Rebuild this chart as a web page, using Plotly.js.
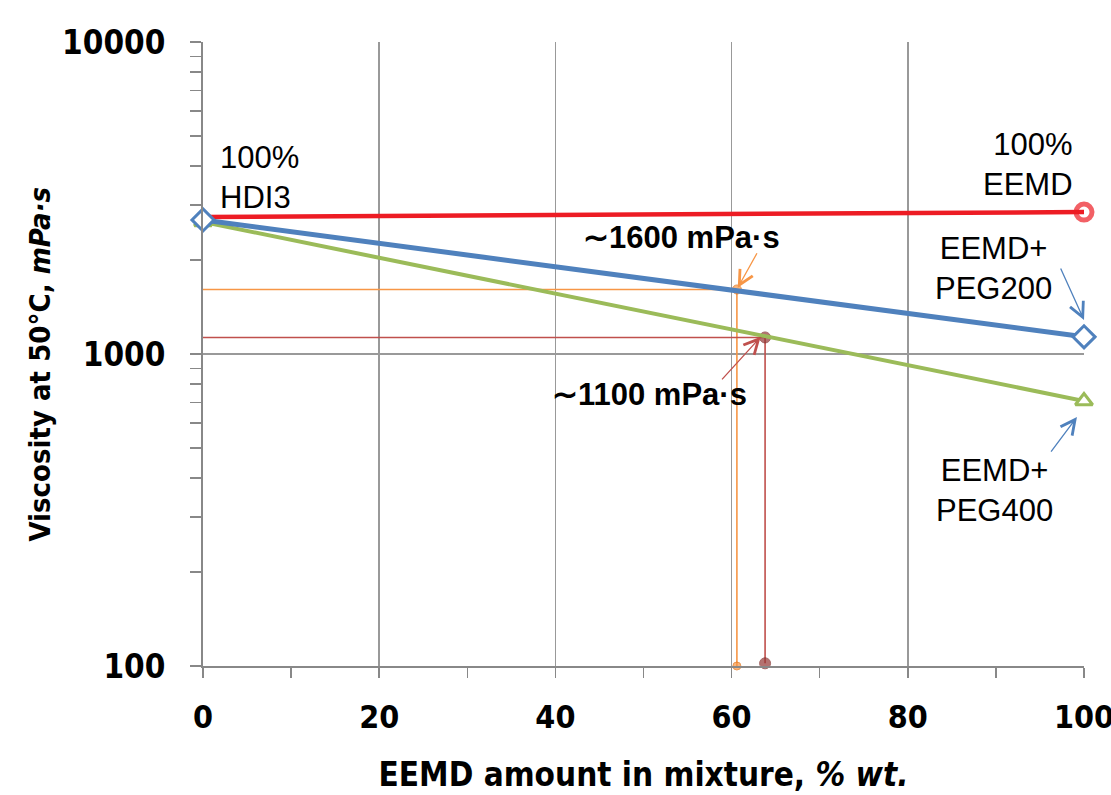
<!DOCTYPE html>
<html><head><meta charset="utf-8">
<script src="https://cdn.plot.ly/plotly-3.0.1.min.js"></script>
<style>html,body{margin:0;padding:0;background:#fff}#chart{width:1111px;height:795px}</style>
</head><body><div id="chart"></div>
<script>
// EEMD amount (% wt.) and viscosity at 50°C (mPa·s)
const xEnds = [0, 100];
const eemdHdi = [2750, 2850];      // 100% HDI3 -> 100% EEMD
const peg200 = [2690, 1135];       // EEMD+PEG200
const peg400 = [2650, 707];        // EEMD+PEG400
// read-off guide lines
const guide1600x = [0, 60.6, 60.6];
const guide1600y = [1610, 1610, 100];
const guide1100x = [0, 63.8, 63.8];
const guide1100y = [1130, 1130, 102];

const xTicks = [0, 20, 40, 60, 80, 100];
const yTicks = [100, 1000, 10000];
const yTickText = ['100', '1000', '10000'];

const BOLD = 'DejaVu Sans Condensed, DejaVu Sans, sans-serif';
const ARIAL = 'Liberation Sans, Arial, sans-serif';

const traces = [
  {x: guide1600x, y: guide1600y, mode: 'lines+markers', line: {color: '#F79646', width: 1.6}, cliponaxis: false,
   marker: {size: [0, 9, 8], color: '#F79646', line: {color: '#E46C0A', width: 1}}, hoverinfo: 'skip'},
  {x: guide1100x, y: guide1100y, mode: 'lines+markers', line: {color: '#C0504D', width: 1.6}, cliponaxis: false,
   marker: {size: [0, 11, 11], color: '#953735', line: {color: '#7f2a28', width: 1}}, hoverinfo: 'skip'},
  {x: xEnds, y: eemdHdi, mode: 'lines+markers', name: '100% EEMD', line: {color: '#ED1C24', width: 4.5}, cliponaxis: false,
   marker: {symbol: 'circle-open', size: [0, 16], color: '#ED1C24', line: {width: 5}}},
  {x: xEnds, y: peg400, mode: 'lines+markers', name: 'EEMD+PEG400', line: {color: '#9BBB59', width: 4}, cliponaxis: false,
   marker: {symbol: 'triangle-up', size: 15, color: '#ffffff', line: {color: '#9BBB59', width: 3}}},
  {x: xEnds, y: peg200, mode: 'lines+markers', name: 'EEMD+PEG200', line: {color: '#4F81BD', width: 5}, cliponaxis: false,
   marker: {symbol: 'diamond', size: 17, color: '#ffffff', line: {color: '#4F81BD', width: 3}}}
];

function arrow(x, y, ax, ay, color) {
  return {x: x, y: Math.log10(y), xref: 'x', yref: 'y', text: '', showarrow: true,
    ax: ax, ay: ay, arrowhead: 5, arrowsize: 2.2, arrowwidth: 1.3, arrowcolor: color};
}
function label(x, y, text, opts) {
  return Object.assign({x: x, y: Math.log10(y), xref: 'x', yref: 'y', text: text, showarrow: false,
    font: {family: ARIAL, size: 31, color: '#000'}}, opts || {});
}

const annotations = [
  label(1.7, 3690, '100%<br>HDI3', {xanchor: 'left', align: 'left'}),
  label(99.0, 4035, '100%<br>EEMD', {xanchor: 'right', align: 'right'}),
  label(89.7, 1886, 'EEMD+<br>PEG200', {xanchor: 'center', align: 'center'}),
  label(89.8, 364, 'EEMD+<br>PEG400', {xanchor: 'center', align: 'center'}),
  label(54.3, 2371, '\u223C1600 mPa\u00B7s', {font: {family: ARIAL, size: 31, color: '#000', weight: 'bold'}}),
  label(50.7, 740, '\u223C1100 mPa\u00B7s', {font: {family: ARIAL, size: 31, color: '#000', weight: 'bold'}}),
  arrow(60.7, 1630, 20, -36, '#F79646'),
  arrow(63.3, 1135, -40, 44, '#C0504D'),
  arrow(100, 1285, -24, -53, '#4F81BD'),
  arrow(99.2, 628, -27, 36, '#4F81BD'),
  // y axis title
  {x: -0.1855, y: 0.484, xref: 'paper', yref: 'paper', xanchor: 'center', yanchor: 'middle',
   text: 'Viscosity at 50°C, <i>mPa·s</i>', textangle: -90, showarrow: false,
   font: {family: BOLD, size: 29, color: '#000', weight: 'bold'}}
];

const layout = {
  width: 1111, height: 795,
  margin: {l: 203, r: 27, t: 42, b: 129},
  paper_bgcolor: '#ffffff', plot_bgcolor: '#ffffff',
  showlegend: false,
  xaxis: {
    range: [0, 100], tickmode: 'array', tickvals: xTicks, ticktext: xTicks.map(String),
    ticks: 'outside', ticklen: 10, tickwidth: 1.5, tickcolor: '#888',
    minor: {dtick: 10, tick0: 0, ticks: 'outside', ticklen: 10, tickwidth: 1.5, tickcolor: '#888', showgrid: false},
    showgrid: true, gridcolor: '#999', gridwidth: 1.5,
    showline: true, linecolor: '#888', linewidth: 2, zeroline: false,
    tickfont: {family: BOLD, size: 32, color: '#000', weight: 'bold'},
    ticklabelstandoff: 12, ticklabeloverflow: 'allow',
    title: {text: 'EEMD amount in mixture, <i>% wt.</i>', standoff: 27,
      font: {family: BOLD, size: 33, color: '#000', weight: 'bold'}},
    automargin: false, fixedrange: true
  },
  yaxis: {
    type: 'log', range: [2, 4], tickmode: 'array', tickvals: yTicks, ticktext: yTickText,
    ticks: 'outside', ticklen: 11, tickwidth: 1.5, tickcolor: '#888',
    minor: {dtick: 'D1', ticks: 'outside', ticklen: 11, tickwidth: 1.5, tickcolor: '#888', showgrid: false},
    showgrid: true, gridcolor: '#999', gridwidth: 1.5,
    showline: true, linecolor: '#888', linewidth: 2, zeroline: false,
    tickfont: {family: BOLD, size: 33, color: '#000', weight: 'bold'},
    ticklabelstandoff: 18,
    automargin: false, fixedrange: true
  },
  annotations: annotations
};

Plotly.newPlot('chart', traces, layout, {displayModeBar: false, staticPlot: true});
</script></body></html>
